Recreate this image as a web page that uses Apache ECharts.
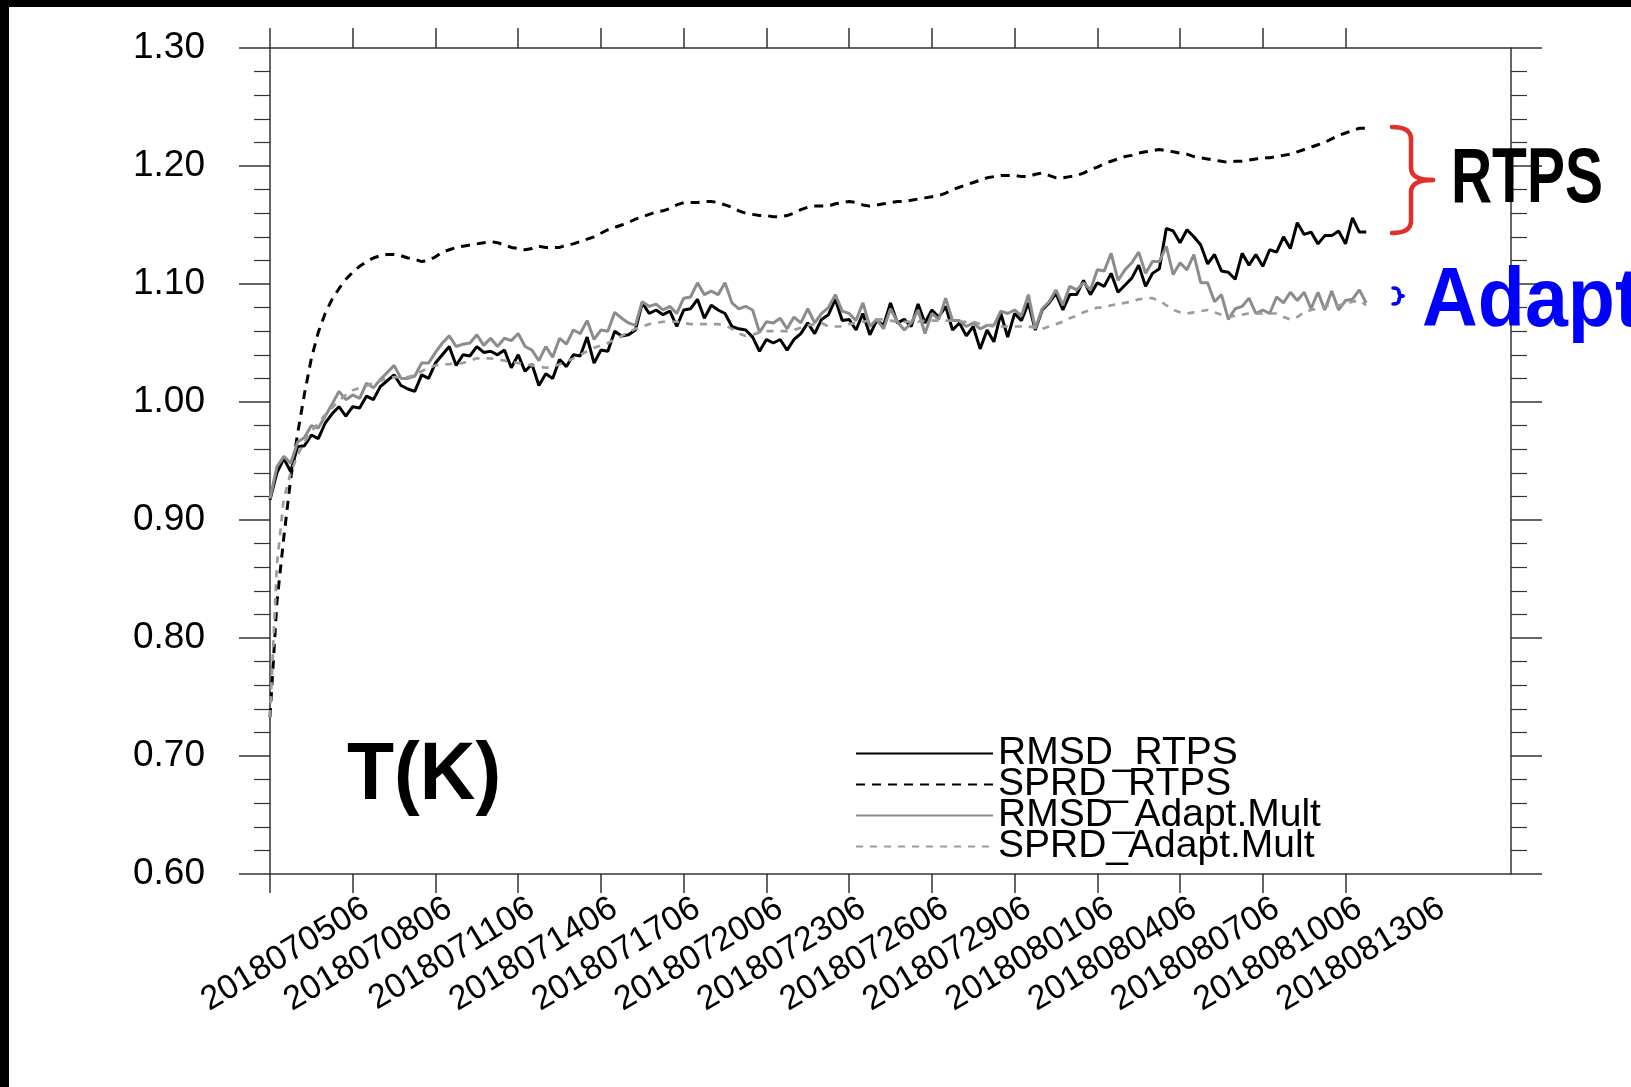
<!DOCTYPE html>
<html>
<head>
<meta charset="utf-8">
<title>T(K) RMSD / SPRD</title>
<script src="https://cdn.jsdelivr.net/npm/echarts@6/dist/echarts.min.js"></script>
<style>
  html, body { margin: 0; padding: 0; background: #ffffff; }
  #chart { width: 1631px; height: 1087px; }
</style>
</head>
<body>
<div id="chart"></div>
<script>
// 6-hourly cycles from 2018070206 to 2018081606 (axis span)
const axisStart = Date.UTC(2018, 6, 2, 6);
const stepHours = 6;
const axisSteps = 181;

// bottom/top tick marks and bottom tick labels
const xTickMarks = ['2018070206', '2018070506', '2018070806', '2018071106', '2018071406',
  '2018071706', '2018072006', '2018072306', '2018072606', '2018072906', '2018080106',
  '2018080406', '2018080706', '2018081006'];
const xTickLabels = ['2018070506', '2018070806', '2018071106', '2018071406', '2018071706',
  '2018072006', '2018072306', '2018072606', '2018072906', '2018080106', '2018080406',
  '2018080706', '2018081006', '2018081306'];

// y axis range
const yMin = 0.6, yMax = 1.3, yStep = 0.1;

const seriesNames = ['RMSD_RTPS', 'SPRD_RTPS', 'RMSD_Adapt.Mult', 'SPRD_Adapt.Mult'];

const rmsdRTPS = [
  0.917, 0.940, 0.952, 0.941, 0.962, 0.963, 0.972, 0.969, 0.982, 0.990,
  0.996, 0.988, 0.996, 0.995, 1.005, 1.002, 1.013, 1.018, 1.023, 1.014,
  1.011, 1.009, 1.023, 1.020, 1.033, 1.040, 1.047, 1.031, 1.040, 1.039,
  1.047, 1.042, 1.043, 1.040, 1.044, 1.029, 1.040, 1.026, 1.032, 1.014,
  1.024, 1.020, 1.036, 1.030, 1.040, 1.039, 1.055, 1.033, 1.044, 1.043,
  1.060, 1.056, 1.057, 1.061, 1.084, 1.075, 1.078, 1.074, 1.077, 1.064,
  1.078, 1.079, 1.087, 1.071, 1.082, 1.078, 1.075, 1.064, 1.062, 1.061,
  1.055, 1.043, 1.053, 1.050, 1.053, 1.044, 1.053, 1.058, 1.067, 1.058,
  1.070, 1.074, 1.087, 1.069, 1.070, 1.061, 1.075, 1.057, 1.069, 1.065,
  1.084, 1.067, 1.070, 1.064, 1.083, 1.067, 1.078, 1.072, 1.081, 1.061,
  1.067, 1.056, 1.064, 1.045, 1.061, 1.051, 1.075, 1.055, 1.075, 1.069,
  1.084, 1.061, 1.078, 1.084, 1.092, 1.078, 1.091, 1.091, 1.103, 1.091,
  1.101, 1.098, 1.109, 1.093, 1.099, 1.105, 1.116, 1.098, 1.109, 1.113,
  1.147, 1.145, 1.135, 1.146, 1.140, 1.133, 1.117, 1.125, 1.111, 1.110,
  1.104, 1.126, 1.116, 1.125, 1.115, 1.129, 1.127, 1.140, 1.130, 1.152,
  1.142, 1.144, 1.134, 1.141, 1.141, 1.145, 1.134, 1.156, 1.144, 1.144
];

const sprdRTPS = [
  0.733, 0.830, 0.885, 0.935, 0.973, 1.007, 1.037, 1.059, 1.075, 1.087,
  1.096, 1.104, 1.110, 1.115, 1.119, 1.122, 1.124, 1.125, 1.125, 1.124,
  1.122, 1.121, 1.119, 1.120, 1.123, 1.127, 1.129, 1.131, 1.132, 1.133,
  1.134, 1.135, 1.136, 1.135, 1.133, 1.131, 1.130, 1.129, 1.130, 1.132,
  1.131, 1.131, 1.131, 1.133, 1.134, 1.136, 1.138, 1.140, 1.143, 1.146,
  1.148, 1.150, 1.152, 1.155, 1.157, 1.159, 1.161, 1.162, 1.164, 1.167,
  1.169, 1.169, 1.169, 1.170, 1.170, 1.169, 1.167, 1.165, 1.162, 1.160,
  1.159, 1.158, 1.158, 1.157, 1.157, 1.158, 1.160, 1.163, 1.165, 1.166,
  1.166, 1.166, 1.168, 1.169, 1.170, 1.169, 1.167, 1.166, 1.167, 1.168,
  1.169, 1.170, 1.170, 1.171, 1.172, 1.173, 1.174, 1.175, 1.177, 1.180,
  1.182, 1.184, 1.186, 1.188, 1.190, 1.191, 1.192, 1.192, 1.192, 1.191,
  1.191, 1.193, 1.194, 1.192, 1.190, 1.190, 1.191, 1.192, 1.194, 1.197,
  1.199, 1.202, 1.204, 1.206, 1.208, 1.209, 1.211, 1.212, 1.213, 1.214,
  1.213, 1.212, 1.211, 1.210, 1.208, 1.207, 1.206, 1.205, 1.204, 1.203,
  1.204, 1.204, 1.205, 1.206, 1.207, 1.207, 1.208, 1.209, 1.210, 1.212,
  1.214, 1.216, 1.218, 1.220, 1.223, 1.226, 1.228, 1.230, 1.232, 1.232
];

const rmsdAdapt = [
  0.918, 0.945, 0.954, 0.948, 0.966, 0.970, 0.980, 0.978, 0.988, 0.998,
  1.009, 1.002, 1.006, 1.003, 1.016, 1.012, 1.019, 1.025, 1.031, 1.020,
  1.020, 1.022, 1.033, 1.033, 1.042, 1.050, 1.056, 1.047, 1.049, 1.050,
  1.057, 1.048, 1.054, 1.047, 1.054, 1.052, 1.058, 1.047, 1.044, 1.035,
  1.047, 1.038, 1.054, 1.049, 1.061, 1.058, 1.069, 1.053, 1.061, 1.060,
  1.076, 1.071, 1.067, 1.065, 1.085, 1.081, 1.083, 1.078, 1.081, 1.075,
  1.088, 1.089, 1.101, 1.091, 1.094, 1.091, 1.101, 1.084, 1.079, 1.081,
  1.078, 1.059, 1.068, 1.067, 1.071, 1.062, 1.072, 1.067, 1.079, 1.067,
  1.075, 1.080, 1.091, 1.077, 1.075, 1.069, 1.084, 1.064, 1.070, 1.062,
  1.079, 1.068, 1.061, 1.067, 1.078, 1.058, 1.075, 1.070, 1.088, 1.069,
  1.069, 1.064, 1.067, 1.062, 1.065, 1.065, 1.077, 1.075, 1.078, 1.073,
  1.091, 1.062, 1.079, 1.085, 1.095, 1.082, 1.098, 1.095, 1.101, 1.095,
  1.112, 1.111, 1.126, 1.103, 1.112, 1.118, 1.127, 1.109, 1.119, 1.119,
  1.132, 1.108, 1.118, 1.112, 1.125, 1.101, 1.101, 1.085, 1.091, 1.070,
  1.079, 1.081, 1.088, 1.075, 1.078, 1.075, 1.089, 1.084, 1.093, 1.086,
  1.093, 1.079, 1.093, 1.078, 1.094, 1.078, 1.086, 1.087, 1.095, 1.084
];

const sprdAdapt = [
  0.733, 0.862, 0.918, 0.940, 0.955, 0.966, 0.975, 0.982, 0.989, 0.995,
  1.001, 1.006, 1.010, 1.012, 1.014, 1.016, 1.018, 1.020, 1.021, 1.021,
  1.021, 1.023, 1.026, 1.029, 1.031, 1.032, 1.032, 1.033, 1.033, 1.035,
  1.037, 1.037, 1.037, 1.036, 1.035, 1.034, 1.033, 1.032, 1.031, 1.030,
  1.029, 1.030, 1.032, 1.034, 1.037, 1.040, 1.043, 1.046, 1.048, 1.050,
  1.053, 1.056, 1.059, 1.062, 1.064, 1.066, 1.067, 1.068, 1.068, 1.068,
  1.067, 1.066, 1.066, 1.066, 1.066, 1.066, 1.065, 1.062, 1.058, 1.056,
  1.057, 1.059, 1.060, 1.060, 1.060, 1.060, 1.061, 1.063, 1.065, 1.066,
  1.067, 1.064, 1.064, 1.064, 1.066, 1.067, 1.068, 1.069, 1.070, 1.070,
  1.069, 1.068, 1.068, 1.068, 1.068, 1.069, 1.069, 1.069, 1.069, 1.069,
  1.068, 1.068, 1.068, 1.066, 1.065, 1.064, 1.064, 1.064, 1.064, 1.064,
  1.064, 1.063, 1.062, 1.064, 1.066, 1.068, 1.071, 1.073, 1.076, 1.078,
  1.080, 1.080, 1.082, 1.083, 1.084, 1.085, 1.087, 1.088, 1.088, 1.086,
  1.082, 1.078, 1.076, 1.075, 1.076, 1.077, 1.078, 1.076, 1.074, 1.072,
  1.073, 1.074, 1.075, 1.075, 1.075, 1.075, 1.075, 1.072, 1.070, 1.072,
  1.076, 1.078, 1.079, 1.081, 1.082, 1.082, 1.083, 1.085, 1.086, 1.082
];

// YYYYMMDDHH category strings along the time axis
function stamp(t) {
  const d = new Date(t);
  const p = n => String(n).padStart(2, '0');
  return d.getUTCFullYear() + p(d.getUTCMonth() + 1) + p(d.getUTCDate()) + p(d.getUTCHours());
}
const categories = [];
for (let k = 0; k < axisSteps; k++) categories.push(stamp(axisStart + k * stepHours * 3600e3));

const FONT = '"Liberation Sans", Arial, Helvetica, sans-serif';
const AXIS_COLOR = '#333333';
const axisLine = { show: true, onZero: false, lineStyle: { color: AXIS_COLOR, width: 1.5 } };

// curly brace built from line and quadratic-curve pieces
function brace(x0, xm, xt, yTop, yMid, yBot, r, color, width) {
  const st = { stroke: color, lineWidth: width, fill: null, lineCap: 'round' };
  return [
    { type: 'bezierCurve', z: 50, shape: { x1: x0, y1: yTop, x2: xm, y2: yTop + r, cpx1: xm, cpy1: yTop }, style: st },
    { type: 'line', z: 50, shape: { x1: xm, y1: yTop + r, x2: xm, y2: yMid - r }, style: st },
    { type: 'bezierCurve', z: 50, shape: { x1: xm, y1: yMid - r, x2: xt, y2: yMid, cpx1: xm, cpy1: yMid }, style: st },
    { type: 'bezierCurve', z: 50, shape: { x1: xt, y1: yMid, x2: xm, y2: yMid + r, cpx1: xm, cpy1: yMid }, style: st },
    { type: 'line', z: 50, shape: { x1: xm, y1: yMid + r, x2: xm, y2: yBot - r }, style: st },
    { type: 'bezierCurve', z: 50, shape: { x1: xm, y1: yBot - r, x2: x0, y2: yBot, cpx1: xm, cpy1: yBot }, style: st }
  ];
}

function tag(text, x, y, size, color, sx) {
  return {
    type: 'text', z: 50, x: x, y: y, scaleX: sx,
    style: {
      text: text, fontFamily: FONT, fontSize: size, fontWeight: 'bold', fill: color,
      textAlign: 'left', textVerticalAlign: 'middle', align: 'left', verticalAlign: 'middle'
    }
  };
}

const chart = echarts.init(document.getElementById('chart'), null, { renderer: 'canvas' });

chart.setOption({
  animation: false,
  backgroundColor: '#ffffff',
  grid: { left: 270, right: 120, top: 48, bottom: 213, containLabel: false },
  xAxis: [
    {
      type: 'category', data: categories, boundaryGap: false, position: 'bottom',
      axisLine: axisLine,
      axisTick: {
        show: true, inside: false, length: 19,
        interval: (i, v) => xTickMarks.includes(v),
        lineStyle: { color: AXIS_COLOR, width: 1.5 }
      },
      axisLabel: {
        show: true, rotate: 31, margin: 40, padding: [0, -16, 0, 0],
        interval: (i, v) => xTickLabels.includes(v),
        fontFamily: FONT, fontSize: 34, color: '#000000'
      },
      splitLine: { show: false }
    },
    {
      type: 'category', data: categories, boundaryGap: false, position: 'top',
      axisLine: axisLine,
      axisTick: {
        show: true, inside: false, length: 20,
        interval: (i, v) => xTickMarks.includes(v),
        lineStyle: { color: AXIS_COLOR, width: 1.5 }
      },
      axisLabel: { show: false },
      splitLine: { show: false }
    }
  ],
  yAxis: [
    {
      type: 'value', min: yMin, max: yMax, interval: yStep, position: 'left',
      axisLine: axisLine,
      axisTick: { show: true, inside: false, length: 31, lineStyle: { color: AXIS_COLOR, width: 1.5 } },
      minorTick: { show: true, splitNumber: 5, length: 16, lineStyle: { color: AXIS_COLOR, width: 1.2 } },
      axisLabel: {
        show: true, margin: 65, formatter: v => v.toFixed(2),
        fontFamily: FONT, fontSize: 37, color: '#000000'
      },
      splitLine: { show: false },
      minorSplitLine: { show: false }
    },
    {
      type: 'value', min: yMin, max: yMax, interval: yStep, position: 'right',
      axisLine: axisLine,
      axisTick: { show: true, inside: false, length: 31, lineStyle: { color: AXIS_COLOR, width: 1.5 } },
      minorTick: { show: true, splitNumber: 5, length: 16, lineStyle: { color: AXIS_COLOR, width: 1.2 } },
      axisLabel: { show: false },
      splitLine: { show: false },
      minorSplitLine: { show: false }
    }
  ],
  legend: {
    orient: 'vertical', left: 855, top: 734, padding: 0, itemGap: -8,
    itemWidth: 137, itemHeight: 14, selectedMode: false,
    data: seriesNames,
    itemStyle: { opacity: 0 },
    lineStyle: { width: 2 },
    textStyle: { fontFamily: FONT, fontSize: 39, color: '#000000' }
  },
  series: [
    {
      name: seriesNames[0], type: 'line', data: rmsdRTPS, symbol: 'none', showSymbol: false,
      lineStyle: { color: '#000000', width: 3, type: 'solid' }, itemStyle: { color: '#000000' }
    },
    {
      name: seriesNames[1], type: 'line', data: sprdRTPS, symbol: 'none', showSymbol: false,
      lineStyle: { color: '#000000', width: 3, type: [9, 7] }, itemStyle: { color: '#000000' }
    },
    {
      name: seriesNames[2], type: 'line', data: rmsdAdapt, symbol: 'none', showSymbol: false,
      lineStyle: { color: '#8c8c8c', width: 3, type: 'solid' }, itemStyle: { color: '#8c8c8c' }
    },
    {
      name: seriesNames[3], type: 'line', data: sprdAdapt, symbol: 'none', showSymbol: false,
      lineStyle: { color: '#9c9c9c', width: 2.7, type: [7, 7] }, itemStyle: { color: '#9c9c9c' }
    }
  ],
  graphic: [
    // dark frame edges
    { type: 'rect', z: 100, shape: { x: 0, y: 0, width: 9, height: 1087 }, style: { fill: '#000000' } },
    { type: 'rect', z: 100, shape: { x: 0, y: 0, width: 1631, height: 7 }, style: { fill: '#000000' } },
    // variable tag
    tag('T(K)', 347, 776, 82, '#000000', 0.94),
    // RTPS group
    ...brace(1392, 1411, 1433, 127, 180, 233, 12, '#e0302a', 4.5),
    tag('RTPS', 1451, 180.5, 78, '#000000', 0.73),
    // adaptive multiplicative inflation group
    ...brace(1393, 1399, 1403, 288, 296, 304, 4, '#0000ff', 3.5),
    tag('Adapt', 1422, 303, 83, '#0000ff', 0.93)
  ]
});
</script>
</body>
</html>
